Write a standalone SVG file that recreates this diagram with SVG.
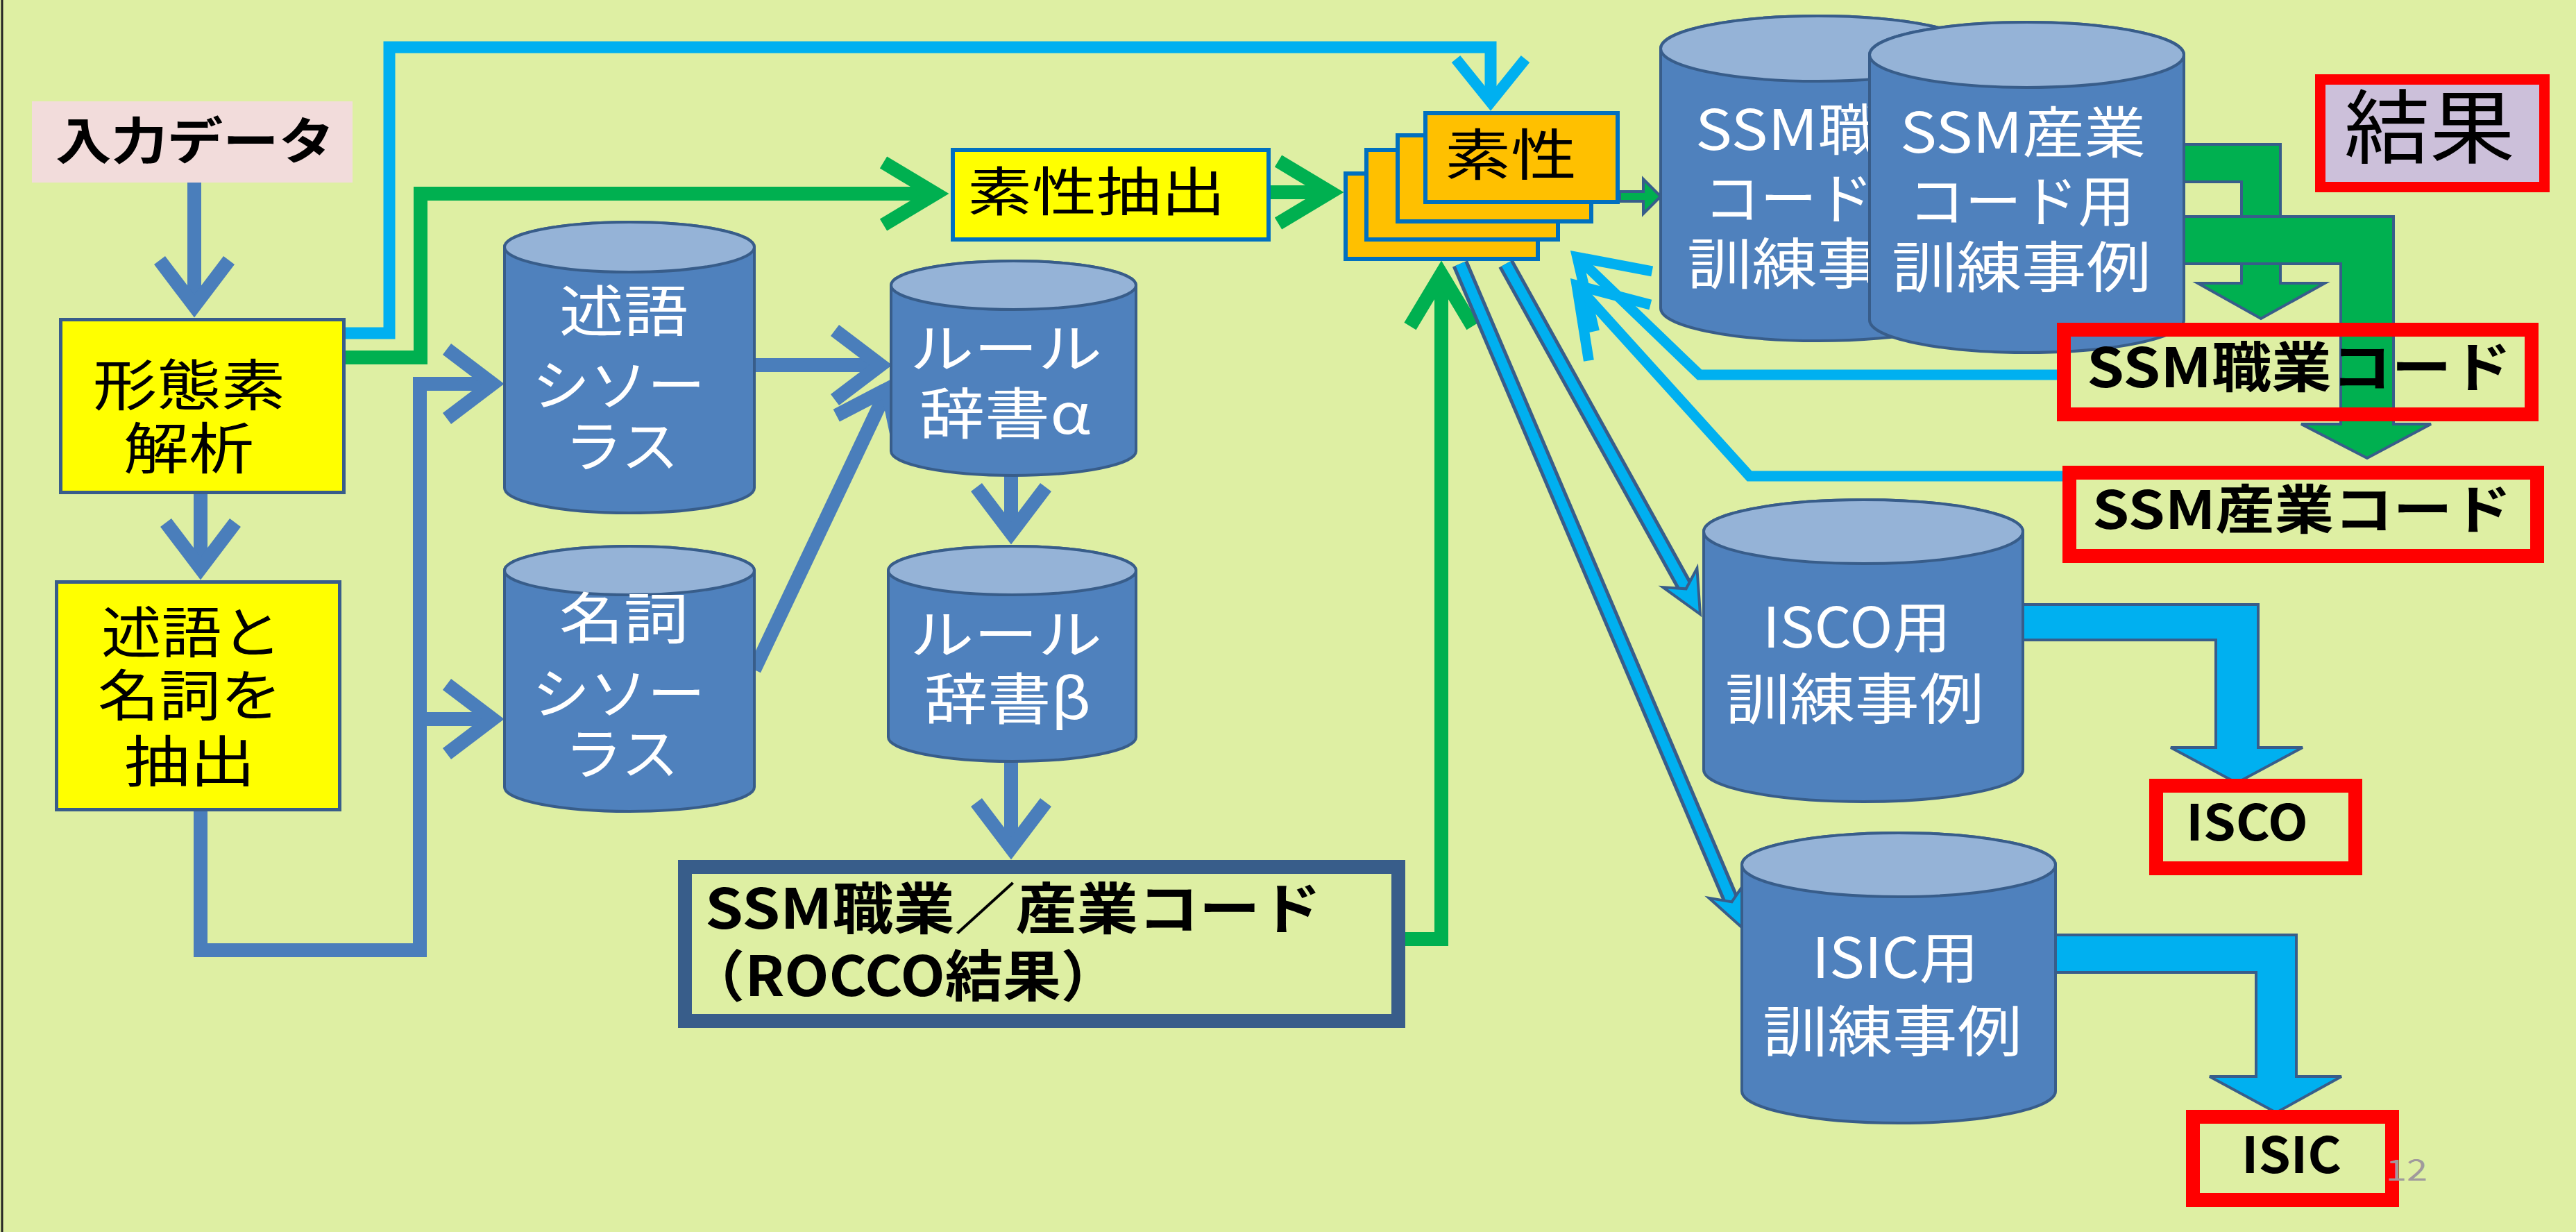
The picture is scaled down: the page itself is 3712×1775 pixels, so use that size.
<svg xmlns="http://www.w3.org/2000/svg" width="3712" height="1775" viewBox="0 0 3712 1775">
<style>
.bg{fill:#DEEFA3}
.cylb{fill:#4F81BD;stroke:#385D8A;stroke-width:4}
.cylt{fill:#95B3D7;stroke:#385D8A;stroke-width:4}
.t{font-family:'Noto Sans CJK JP','Noto Sans',sans-serif}
.w{fill:#FFFFFF}
.k{fill:#000000}
.b{font-weight:bold}
.lb{fill:none;stroke:#4A7EBB;stroke-width:20;stroke-linejoin:miter}
.lg{fill:none;stroke:#00B050;stroke-width:20;stroke-linejoin:miter}
.lc{fill:none;stroke:#00B0F0;stroke-width:17;stroke-linejoin:miter}
.lcr{fill:none;stroke:#00B0F0;stroke-width:15;stroke-linejoin:miter}
.red{fill:none;stroke:#FF0000;stroke-width:20}
.card{fill:#FFC000;stroke:#0070C0;stroke-width:6}
.ybox{fill:#FFFF00;stroke:#385D8A;stroke-width:5}
.gblk{fill:#00B050;stroke:#385D8A;stroke-width:4}
.cblk{fill:#00B0F0;stroke:#385D8A;stroke-width:4}
.shd{fill:none;stroke:#385D8A;stroke-width:24}
.shc{fill:none;stroke:#00B0F0;stroke-width:14}
</style>
<defs>
<marker id="mB" markerUnits="userSpaceOnUse" orient="auto" overflow="visible" markerWidth="1" markerHeight="1" refX="0" refY="0"><path d="M-66,-50 L0,0 L-66,50" fill="none" stroke="#4A7EBB" stroke-width="20" stroke-miterlimit="10"/></marker>
<marker id="mG" markerUnits="userSpaceOnUse" orient="auto" overflow="visible" markerWidth="1" markerHeight="1" refX="0" refY="0"><path d="M-75,-45 L0,0 L-75,45" fill="none" stroke="#00B050" stroke-width="20" stroke-miterlimit="10"/></marker>
<marker id="mC" markerUnits="userSpaceOnUse" orient="auto" overflow="visible" markerWidth="1" markerHeight="1" refX="0" refY="0"><path d="M-62,-50 L0,0 L-62,50" fill="none" stroke="#00B0F0" stroke-width="16" stroke-miterlimit="10"/></marker>
<marker id="mCL" markerUnits="userSpaceOnUse" orient="auto" overflow="visible" markerWidth="1" markerHeight="1" refX="0" refY="0"><path d="M-92,-60 L0,0 L-92,60" fill="none" stroke="#00B0F0" stroke-width="15" stroke-miterlimit="10"/></marker>
</defs>
<rect class="bg" x="0" y="0" width="3712" height="1775"/>
<line x1="3" y1="0" x2="3" y2="1775" stroke="#222" stroke-width="3"/>

<g id="connectors">
<path class="lb" d="M280,263 V441" marker-end="url(#mB)"/>
<path class="lb" d="M289,712 V819" marker-end="url(#mB)"/>
<path class="lb" d="M289,1169 V1369 H605 V553 H710" marker-end="url(#mB)"/>
<path class="lb" d="M605,1036 H710" marker-end="url(#mB)"/>
<path class="lb" d="M1087,526 H1269" marker-end="url(#mB)"/>
<path class="lb" d="M1087,965 L1278.7,560.4" marker-end="url(#mB)"/>
<path class="lb" d="M1457,685 V768" marker-end="url(#mB)"/>
<path class="lb" d="M1457,1098 V1222" marker-end="url(#mB)"/>
<path class="lg" d="M498,515 H606 V279 H1348" marker-end="url(#mG)"/>
<path class="lg" d="M1831,277 H1917" marker-end="url(#mG)"/>
<path class="lg" d="M2025,1353 H2077 V395" marker-end="url(#mG)"/>
<path class="lc" d="M498,480 H561 V68 H2148 V147" marker-end="url(#mC)"/>
<path class="lcr" d="M2964,540 H2449 L2272.8,370.4" marker-end="url(#mCL)"/>
<path class="lcr" d="M2972,686 H2521 L2272.1,411.1" marker-end="url(#mCL)"/>
<path class="shd" d="M2170,380 L2429.6,848.3"/>
<path class="shc" d="M2170,380 L2429.6,848.3"/>
<polygon class="cblk" points="2450,885 2396.4,846.1 2429.6,848.3 2445.4,818.9"/>
<path class="shd" d="M2104,380 L2495.5,1299.4"/>
<path class="shc" d="M2104,380 L2495.5,1299.4"/>
<polygon class="cblk" points="2512,1338 2462.7,1293.8 2495.5,1299.4 2514.3,1271.8"/>
<polygon class="gblk" points="2334,276 2368,276 2368,258 2393,283 2368,308 2368,290 2334,290"/>
<path class="gblk" d="M3147,208 H3286 V408 H3350 L3258,459 L3167,408 H3230 V262 H3147 Z"/>
<path class="gblk" d="M3147,312 H3449 V611 H3503 L3411,660 L3316,611 H3373 V380 H3147 Z"/>
<path class="cblk" d="M2915,871 H3254 V1077 H3318 L3223,1128 L3128,1077 H3193 V922 H2915 Z"/>
<path class="cblk" d="M2961,1347 H3309 V1551 H3374 L3280,1603 L3184,1551 H3251 V1401 H2961 Z"/>
</g>

<g id="input">
<rect x="46" y="146" width="462" height="117" fill="#F2DCDB"/>
<text class="t k b" x="80" y="229" font-size="72" textLength="402" lengthAdjust="spacingAndGlyphs">入力データ</text>
</g>

<g id="morph">
<rect class="ybox" x="87.5" y="460.5" width="408" height="249"/>
<text class="t k" x="134" y="584" font-size="80" textLength="277" lengthAdjust="spacingAndGlyphs">形態素</text>
<text class="t k" x="178" y="675" font-size="80" textLength="188" lengthAdjust="spacingAndGlyphs">解析</text>
</g>

<g id="extract">
<rect class="ybox" x="81.5" y="838.5" width="408" height="328"/>
<text class="t k" x="146" y="940" font-size="80" textLength="260" lengthAdjust="spacingAndGlyphs">述語と</text>
<text class="t k" x="141" y="1031" font-size="80" textLength="265" lengthAdjust="spacingAndGlyphs">名詞を</text>
<text class="t k" x="179" y="1126" font-size="80" textLength="189" lengthAdjust="spacingAndGlyphs">抽出</text>
</g>

<g id="thes-pred">
<path class="cylb" d="M727,356 V703 A180,36 0 0 0 1087,703 V356 A180,36 0 0 0 727,356 Z"/>
<ellipse class="cylt" cx="907" cy="356" rx="180" ry="36"/>
<text class="t w" x="806" y="477" font-size="80" textLength="186" lengthAdjust="spacingAndGlyphs">述語</text>
<text class="t w" x="767" y="584" font-size="80" textLength="249" lengthAdjust="spacingAndGlyphs">シソー</text>
<text class="t w" x="814" y="672" font-size="80" textLength="164" lengthAdjust="spacingAndGlyphs">ラス</text>
</g>

<g id="thes-noun">
<path class="cylb" d="M727,822 V1134 A180,35 0 0 0 1087,1134 V822 A180,35 0 0 0 727,822 Z"/>
<ellipse class="cylt" cx="907" cy="822" rx="180" ry="35"/>
<text class="t w" x="806" y="920" font-size="80" textLength="186" lengthAdjust="spacingAndGlyphs">名詞</text>
<text class="t w" x="767" y="1028" font-size="80" textLength="249" lengthAdjust="spacingAndGlyphs">シソー</text>
<text class="t w" x="814" y="1115" font-size="80" textLength="164" lengthAdjust="spacingAndGlyphs">ラス</text>
</g>

<g id="rule-alpha">
<path class="cylb" d="M1284,411 V650 A176.5,35 0 0 0 1637,650 V411 A176.5,35 0 0 0 1284,411 Z"/>
<ellipse class="cylt" cx="1460.5" cy="411" rx="176.5" ry="35"/>
<text class="t w" x="1311" y="530" font-size="76" textLength="277" lengthAdjust="spacingAndGlyphs">ルール</text>
<text class="t w" x="1325" y="625" font-size="80" textLength="247" lengthAdjust="spacingAndGlyphs">辞書α</text>
</g>

<g id="rule-beta">
<path class="cylb" d="M1280,822 V1062 A178.5,35 0 0 0 1637,1062 V822 A178.5,35 0 0 0 1280,822 Z"/>
<ellipse class="cylt" cx="1458.5" cy="822" rx="178.5" ry="35"/>
<text class="t w" x="1311" y="942" font-size="76" textLength="277" lengthAdjust="spacingAndGlyphs">ルール</text>
<text class="t w" x="1332" y="1036" font-size="80" textLength="240" lengthAdjust="spacingAndGlyphs">辞書β</text>
</g>

<g id="rocco">
<rect x="987" y="1249" width="1028" height="222" fill="none" stroke="#385D8A" stroke-width="20"/>
<text class="t k b" x="1016" y="1338" font-size="80" textLength="888" lengthAdjust="spacingAndGlyphs">SSM職業／産業コード</text>
<text class="t k b" x="990" y="1435" font-size="80" textLength="622" lengthAdjust="spacingAndGlyphs">（ROCCO結果）</text>
</g>

<g id="feature-extract">
<rect x="1373" y="216" width="455" height="129" fill="#FFFF00" stroke="#0070C0" stroke-width="6"/>
<text class="t k" x="1394" y="304" font-size="76" textLength="372" lengthAdjust="spacingAndGlyphs">素性抽出</text>
</g>

<g id="features">
<rect class="card" x="1939" y="250" width="277" height="123"/>
<rect class="card" x="1969" y="216" width="276" height="129"/>
<rect class="card" x="2014" y="195" width="279" height="124"/>
<rect class="card" x="2054" y="163" width="277" height="128"/>
<text class="t k" x="2082" y="252" font-size="80" textLength="190" lengthAdjust="spacingAndGlyphs">素性</text>
</g>

<g id="train-occ">
<path class="cylb" d="M2393,70 V444 A226.5,47 0 0 0 2846,444 V70 A226.5,47 0 0 0 2393,70 Z"/>
<ellipse class="cylt" cx="2619.5" cy="70" rx="226.5" ry="47"/>
<text class="t w" x="2443" y="216" font-size="80" textLength="354" lengthAdjust="spacingAndGlyphs">SSM職業</text>
<text class="t w" x="2455" y="315" font-size="80" textLength="326" lengthAdjust="spacingAndGlyphs">コード用</text>
<text class="t w" x="2431" y="409" font-size="80" textLength="374" lengthAdjust="spacingAndGlyphs">訓練事例</text>
</g>

<g id="train-ind">
<path class="cylb" d="M2694,79 V461 A226.5,47 0 0 0 3147,461 V79 A226.5,47 0 0 0 2694,79 Z"/>
<ellipse class="cylt" cx="2920.5" cy="79" rx="226.5" ry="47"/>
<text class="t w" x="2738" y="220" font-size="80" textLength="354" lengthAdjust="spacingAndGlyphs">SSM産業</text>
<text class="t w" x="2750" y="319" font-size="80" textLength="326" lengthAdjust="spacingAndGlyphs">コード用</text>
<text class="t w" x="2726" y="414" font-size="80" textLength="374" lengthAdjust="spacingAndGlyphs">訓練事例</text>
</g>

<g id="result-label">
<rect x="3343.5" y="114.5" width="323" height="155" fill="#CCC0DA" stroke="#FF0000" stroke-width="15"/>
<text class="t k" x="3378" y="226" font-size="116" textLength="246" lengthAdjust="spacingAndGlyphs">結果</text>
</g>

<g id="ssm-occ-code">
<rect class="red" x="2974" y="475" width="674" height="122"/>
<text class="t k b" x="3007" y="558" font-size="78" textLength="612" lengthAdjust="spacingAndGlyphs">SSM職業コード</text>
</g>

<g id="ssm-ind-code">
<rect class="red" x="2982" y="681" width="674" height="120"/>
<text class="t k b" x="3015" y="762" font-size="76" textLength="604" lengthAdjust="spacingAndGlyphs">SSM産業コード</text>
</g>

<g id="train-isco">
<path class="cylb" d="M2455,766 V1109 A230,46 0 0 0 2915,1109 V766 A230,46 0 0 0 2455,766 Z"/>
<ellipse class="cylt" cx="2685" cy="766" rx="230" ry="46"/>
<text class="t w" x="2540" y="933" font-size="80" textLength="271" lengthAdjust="spacingAndGlyphs">ISCO用</text>
<text class="t w" x="2486" y="1036" font-size="80" textLength="373" lengthAdjust="spacingAndGlyphs">訓練事例</text>
</g>

<g id="train-isic">
<path class="cylb" d="M2510,1246 V1572 A226,46 0 0 0 2962,1572 V1246 A226,46 0 0 0 2510,1246 Z"/>
<ellipse class="cylt" cx="2736" cy="1246" rx="226" ry="46"/>
<text class="t w" x="2611" y="1409" font-size="80" textLength="240" lengthAdjust="spacingAndGlyphs">ISIC用</text>
<text class="t w" x="2540" y="1515" font-size="80" textLength="374" lengthAdjust="spacingAndGlyphs">訓練事例</text>
</g>

<g id="isco">
<rect class="red" x="3107" y="1132" width="287" height="119"/>
<text class="t k b" x="3150" y="1211" font-size="72" textLength="176" lengthAdjust="spacingAndGlyphs">ISCO</text>
</g>

<g id="isic">
<rect class="red" x="3160" y="1609" width="287" height="120"/>
<text class="t k b" x="3230" y="1690" font-size="72" textLength="144" lengthAdjust="spacingAndGlyphs">ISIC</text>
</g>

<text class="t" x="3438" y="1701" font-size="42" fill="#A09A9C" textLength="60" lengthAdjust="spacingAndGlyphs">12</text>
</svg>
